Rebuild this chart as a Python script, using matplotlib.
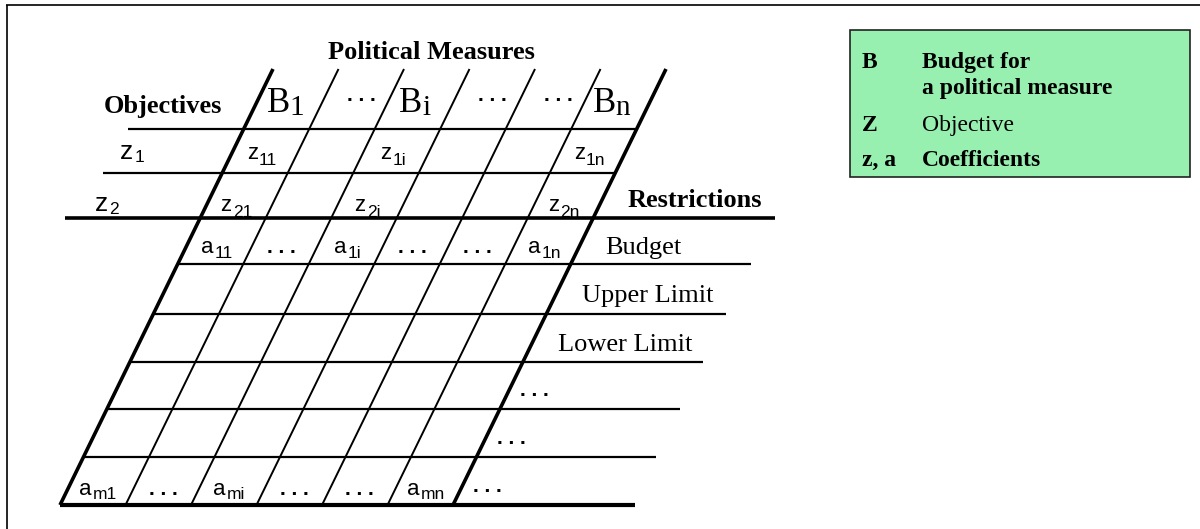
import matplotlib
matplotlib.use('Agg')
import matplotlib.pyplot as plt
from matplotlib.patches import Rectangle
from matplotlib.textpath import TextPath
from matplotlib.font_manager import FontProperties

SERIF = 'Liberation Serif'
SANS = 'Liberation Sans'

# labels of the diagram
header_base = ['B', '...', 'B', '...', '...', 'B']
header_sub = ['1', '', 'i', '', '', 'n']
objective_sub = ['1', '2']
z_cells = [['11', '', '1i', '', '', '1n'],
           ['21', '', '2i', '', '', '2n']]
a_first = ['11', '...', '1i', '...', '...', '1n']
a_last = ['m1', '...', 'mi', '...', '...', 'mn']
restrictions = ['Budget', 'Upper Limit', 'Lower Limit', '...', '...', '...']
legend_keys = ['B', '', 'Z', 'z, a']
legend_text = ['Budget for', 'a political measure', 'Objective', 'Coefficients']
legend_bold = [True, True, False, True]

# grid geometry (pixels)
TOP, BOT = 69, 505
X0, DX, SLOPE = 273, 65.5, -0.4885
z_rows = [129, 173, 218]
z_left = [128, 103, 65]
z_base = [159, 211]
a_rows = [218, 264, 314, 362, 409, 457, 505]


def xline(k, y):
    return X0 + DX * k + SLOPE * (y - TOP)


def xcell(k, y):
    return (xline(k, y) + xline(k + 1, y)) / 2


def tw(s, family, size, weight='normal'):
    if not s:
        return 0
    fp = FontProperties(family=family, weight=weight)
    return TextPath((0, 0), s, size=size * 100 / 72, prop=fp).get_extents().width


fig = plt.figure(figsize=(12, 5.29), dpi=100)
ax = fig.add_axes([0, 0, 1, 1])
ax.set_xlim(0, 1200)
ax.set_ylim(529, 0)
ax.axis('off')


def sublabel(x, y, base, sub, family, size, subsize, drop, gap=1):
    wb = tw(base, family, size)
    ws = tw(sub, family, subsize)
    xs = x - (wb + gap + ws) / 2 + wb
    ax.text(xs, y, base, ha='right', va='baseline', family=family, fontsize=size)
    ax.text(xs + gap, y + drop, sub, ha='left', va='baseline', family=family, fontsize=subsize)


def dots(x, y, ha='center'):
    ax.text(x, y, '. . .', ha=ha, va='baseline', family=SANS,
            fontweight='bold', fontsize=15)


def line(xs, ys, lw):
    ax.plot(xs, ys, color='black', lw=lw, solid_capstyle='butt')


# outer frame (top and left only)
line([6, 1200], [5, 5], 1.2)
line([7, 7], [5, 529], 1.2)

# slanted column lines
for k in range(7):
    lw = 2.6 if k in (0, 6) else 1.4
    line([xline(k, TOP), xline(k, BOT)], [TOP, BOT], lw)

# horizontal lines of the objectives part
line([z_left[0], xline(6, z_rows[0])], [z_rows[0]] * 2, 1.6)
line([z_left[1], xline(6, z_rows[1])], [z_rows[1]] * 2, 1.6)
line([z_left[2], 775], [z_rows[2]] * 2, 2.6)

# horizontal lines of the restrictions part
for y in a_rows[1:]:
    lw = 3.0 if y == a_rows[-1] else 1.6
    ext = 182 if y == a_rows[-1] else 180
    line([xline(0, y), xline(6, y) + ext], [y, y], lw)

# headers
ax.text(431, 59, 'Political Measures', ha='center', va='baseline', family=SERIF,
        fontweight='bold', fontsize=19)
ax.text(222, 113, 'Objectives', ha='right', va='baseline', family=SERIF,
        fontweight='bold', fontsize=19)
ax.text(628, 207, 'Restrictions', ha='left', va='baseline', family=SERIF,
        fontweight='bold', fontsize=19)

for k, (b, s) in enumerate(zip(header_base, header_sub)):
    if s:
        sublabel(xcell(k, 112), 112, b, s, SERIF, 25, 21, 3, gap=0)
    else:
        dots(xcell(k, 101) + 6, 101)

# objective rows
for r, s in enumerate(objective_sub):
    sublabel(z_left[r] + 4, z_base[r], 'z', s, SANS, 19, 12.5, 3, gap=1)
    for k, c in enumerate(z_cells[r]):
        if c:
            sublabel(xcell(k, z_base[r]), z_base[r], 'z', c, SANS, 16, 12.5, 6)

# restriction rows
yb = a_rows[0] + 35
for k, c in enumerate(a_first):
    if c == '...':
        dots(xcell(k, yb), yb)
    else:
        sublabel(xcell(k, yb), yb, 'a', c, SANS, 16, 12.5, 5)
yb = a_rows[-2] + 38
for k, c in enumerate(a_last):
    if c == '...':
        dots(xcell(k, yb), yb)
    else:
        sublabel(xcell(k, yb), yb, 'a', c, SANS, 16, 12.5, 4)

for r, lab in enumerate(restrictions):
    yc = (a_rows[r] + a_rows[r + 1]) / 2
    if lab == '...':
        dots(xline(6, yc + 11) + 14, yc + 11, ha='left')
    else:
        ax.text(xline(6, yc + 13) + 30, yc + 13, lab, ha='left', va='baseline',
                family=SERIF, fontsize=19)

# legend box
ax.add_patch(Rectangle((850, 30), 340, 147, facecolor='#98F0B0',
                       edgecolor='#222222', lw=1.2))
legend_y = [68, 94, 131, 166]
for key, txt, bold, y in zip(legend_keys, legend_text, legend_bold, legend_y):
    if key:
        ax.text(862, y, key, ha='left', va='baseline', family=SERIF,
                fontweight='bold', fontsize=17)
    ax.text(922, y, txt, ha='left', va='baseline', family=SERIF,
            fontweight='bold' if bold else 'normal', fontsize=17)

fig.savefig('out.png', dpi=100)
